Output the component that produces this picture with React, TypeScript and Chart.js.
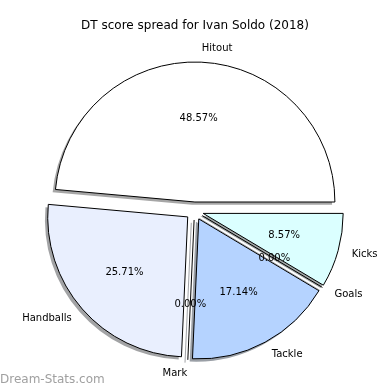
import React, { useEffect, useRef } from 'react';
import { Chart, registerables } from 'chart.js';

Chart.register(...registerables);

// Order is reversed vs. matplotlib (which draws counter-clockwise from 3 o'clock)
const categories = ['Kicks', 'Goals', 'Tackle', 'Mark', 'Handballs', 'Hitout'];
const values = [3, 0, 6, 0, 9, 17];
const colors = ['#dbffff', '#c8e6ff', '#b5d3ff', '#dde8ff', '#e9effe', '#ffffff'];
const titleText = 'DT score spread for Ivan Soldo (2018)';
const watermark = 'Dream-Stats.com';

const EXPLODE = 9;
const SHADOW = 2.8;
const FONT = "'DejaVu Sans', sans-serif";

function hexToRgb(h: string) {
  const n = parseInt(h.slice(1), 16);
  return [(n >> 16) & 255, (n >> 8) & 255, n & 255];
}

function geom(chart: any) {
  const meta = chart.getDatasetMeta(0);
  return meta.data.map((a: any) => {
    const p = a.getProps(['x', 'y', 'startAngle', 'endAngle', 'outerRadius', 'circumference'], true);
    const mid = (p.startAngle + p.endAngle) / 2;
    return { a, p, mid, dx: Math.cos(mid) * EXPLODE, dy: Math.sin(mid) * EXPLODE };
  });
}

const mplPie = {
  id: 'mplPie',
  beforeDatasetDraw(chart: any) {
    const ctx = chart.ctx;
    const items = geom(chart);
    // shadows first
    items.forEach(({ a, p, dx, dy }: any, i: number) => {
      const [r, g, b] = hexToRgb(colors[i]);
      const sc = `rgba(${Math.round(r * 0.3)},${Math.round(g * 0.3)},${Math.round(b * 0.3)},0.5)`;
      ctx.save();
      ctx.translate(dx - SHADOW, dy + SHADOW);
      if (p.circumference === 0) {
        ctx.beginPath();
        ctx.moveTo(p.x, p.y);
        ctx.lineTo(p.x + Math.cos(p.startAngle) * p.outerRadius, p.y + Math.sin(p.startAngle) * p.outerRadius);
        ctx.strokeStyle = sc;
        ctx.lineWidth = 1;
        ctx.stroke();
      } else {
        const o = a.options;
        a.options = { ...o, backgroundColor: sc, borderColor: sc, borderWidth: 0 };
        a.draw(ctx);
        a.options = o;
      }
      ctx.restore();
    });
    // wedges
    items.forEach(({ a, p, dx, dy }: any) => {
      ctx.save();
      ctx.translate(dx, dy);
      if (p.circumference === 0) {
        ctx.beginPath();
        ctx.moveTo(p.x, p.y);
        ctx.lineTo(p.x + Math.cos(p.startAngle) * p.outerRadius, p.y + Math.sin(p.startAngle) * p.outerRadius);
        ctx.strokeStyle = '#000';
        ctx.lineWidth = 1;
        ctx.stroke();
      } else {
        a.draw(ctx);
      }
      ctx.restore();
    });
    return false;
  },
  afterDraw(chart: any) {
    const ctx = chart.ctx;
    const items = geom(chart);
    const total = values.reduce((s, v) => s + v, 0);
    ctx.save();
    ctx.fillStyle = '#000';
    ctx.textBaseline = 'middle';
    ctx.font = `12px ${FONT}`;
    ctx.textAlign = 'center';
    ctx.fillText(titleText, 195, 26);
    ctx.font = `10px ${FONT}`;
    items.forEach(({ p, mid, dx, dy }: any, i: number) => {
      const cx = p.x + dx;
      const cy = p.y + dy;
      const c = Math.cos(mid);
      const s = Math.sin(mid);
      ctx.textAlign = c > 0 ? 'left' : 'right';
      ctx.fillText(categories[i], cx + c * 1.1 * p.outerRadius, cy + s * 1.1 * p.outerRadius);
      ctx.textAlign = 'center';
      const pct = ((values[i] / total) * 100).toFixed(2) + '%';
      ctx.fillText(pct, cx + c * 0.6 * p.outerRadius, cy + s * 0.6 * p.outerRadius);
    });
    ctx.font = `12px ${FONT}`;
    ctx.fillStyle = '#a0a0a0';
    ctx.textAlign = 'left';
    ctx.fillText(watermark, 0, 380);
    ctx.restore();
  },
};

export default function App() {
  const ref = useRef<HTMLCanvasElement>(null);
  useEffect(() => {
    document.body.style.margin = '0';
    const chart = new Chart(ref.current as HTMLCanvasElement, {
      type: 'pie',
      data: {
        labels: categories,
        datasets: [
          {
            data: values,
            backgroundColor: colors,
            borderColor: '#000',
            borderWidth: 1,
            radius: 140,
          } as any,
        ],
      },
      options: {
        animation: false,
        responsive: false,
        devicePixelRatio: 1,
        rotation: 90,
        layout: { padding: { top: 32, left: 0, right: 1, bottom: 0 } },
        plugins: { legend: { display: false }, tooltip: { enabled: false }, title: { display: false } },
      },
      plugins: [mplPie],
    });
    return () => chart.destroy();
  }, []);
  return (
    <canvas
      ref={ref}
      width={390}
      height={390}
      style={{ display: 'block', position: 'absolute', left: 0, top: 0, width: 390, height: 390, background: '#fff' }}
    />
  );
}
